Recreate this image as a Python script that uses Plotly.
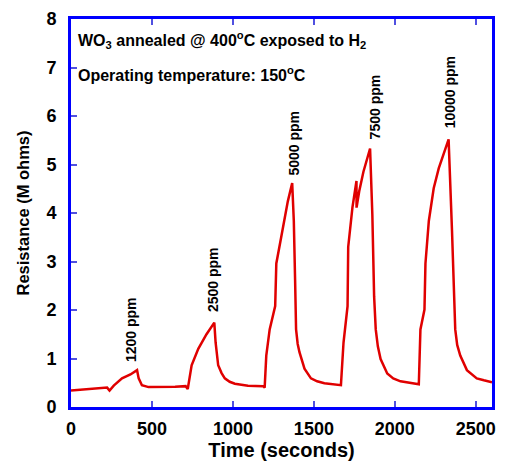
import plotly.graph_objects as go

time_s = [0, 100, 223, 238, 264, 315, 367, 408, 418, 438, 479, 643, 708, 721,
          745, 786, 837, 885, 893, 909, 930, 950, 980, 1012, 1093, 1186, 1196,
          1206, 1227, 1261, 1268, 1298, 1319, 1339, 1366, 1376, 1384, 1390, 1400, 1411, 1442, 1482, 1520, 1565, 1667,
          1683, 1708, 1712, 1738, 1763, 1763.5, 1780, 1806, 1825, 1847, 1861, 1872, 1882, 1895, 1912, 1953, 1990, 2035, 2148,
          2158, 2183, 2189, 2210, 2240, 2271, 2302, 2332, 2353, 2367, 2373, 2385, 2404, 2445, 2506, 2550, 2588, 2600]
resistance = [0.34, 0.37, 0.40, 0.34, 0.44, 0.59, 0.67, 0.76, 0.59, 0.45, 0.41, 0.42, 0.43, 0.37,
              0.86, 1.20, 1.50, 1.74, 1.33, 0.86, 0.70, 0.59, 0.52, 0.48, 0.44, 0.43, 0.40,
              1.06, 1.60, 2.08, 2.96, 3.50, 3.90, 4.24, 4.62, 3.84, 2.62, 1.60, 1.30, 1.13, 0.79, 0.59, 0.53, 0.49, 0.45,
              1.33, 2.08, 3.30, 4.11, 4.66, 4.11, 4.45, 4.85, 5.08, 5.33, 3.97, 2.28, 1.60, 1.25, 0.99, 0.69, 0.59, 0.53, 0.47,
              1.60, 2.01, 2.96, 3.84, 4.51, 4.92, 5.22, 5.52, 3.63, 2.42, 1.60, 1.28, 1.06, 0.76, 0.59, 0.55, 0.52, 0.51]

label_text = ["1200 ppm", "2500 ppm", "5000 ppm", "7500 ppm", "10000 ppm"]
label_x = [375, 878, 1380, 1875, 2338]
label_y = [1.60, 2.62, 5.44, 6.19, 6.48]

x_ticks = [0, 500, 1000, 1500, 2000, 2500]
y_ticks = [0, 1, 2, 3, 4, 5, 6, 7, 8]

font = "Liberation Sans, Arial, sans-serif"

fig = go.Figure()
fig.add_trace(go.Scatter(x=time_s, y=resistance, mode="lines",
                         line=dict(color="#e00000", width=2.5), showlegend=False))

for t, x, y in zip(label_text, label_x, label_y):
    fig.add_annotation(x=x, y=y, text="<b>%s</b>" % t, textangle=-90, showarrow=False,
                       font=dict(family=font, size=14, color="black"))

fig.add_annotation(xref="paper", yref="paper", x=0.012, y=0.945, xanchor="left", yanchor="middle",
                   text="<b>WO<sub>3</sub> annealed @ 400<sup>o</sup>C exposed to H<sub>2</sub></b>",
                   showarrow=False, font=dict(family=font, size=16, color="black"))
fig.add_annotation(xref="paper", yref="paper", x=0.012, y=0.859, xanchor="left", yanchor="middle",
                   text="<b>Operating temperature: 150<sup>o</sup>C</b>",
                   showarrow=False, font=dict(family=font, size=16, color="black"))

fig.update_layout(
    width=505, height=468,
    margin=dict(l=71, r=9, t=15, b=59),
    plot_bgcolor="white", paper_bgcolor="white",
    font=dict(family=font, color="black"),
    xaxis=dict(range=[0, 2600], tickvals=x_ticks, ticktext=["<b>%d</b>" % v for v in x_ticks],
               ticks="inside", ticklen=6, tickcolor="#5050e0", tickwidth=1.5,
               showline=True, linecolor="#0000ff", linewidth=3, mirror="ticks",
               showgrid=False, zeroline=False, ticklabelstandoff=3,
               tickfont=dict(size=18, family=font),
               title=dict(text="<b>Time (seconds)</b>", font=dict(size=20, family=font), standoff=6)),
    yaxis=dict(range=[0, 8], tickvals=y_ticks, ticktext=["<b>%d</b>" % v for v in y_ticks],
               ticks="inside", ticklen=6, tickcolor="#5050e0", tickwidth=1.5,
               showline=True, linecolor="#0000ff", linewidth=3, mirror=True,
               showgrid=False, zeroline=False, ticklabelstandoff=8,
               tickfont=dict(size=18, family=font),
               title=dict(text="<b>Resistance (M ohms)</b>", font=dict(size=16.5, family=font), standoff=13)),
)

fig.write_html("out.html", config={"displayModeBar": False},
               post_script="document.body.style.margin='0';")
